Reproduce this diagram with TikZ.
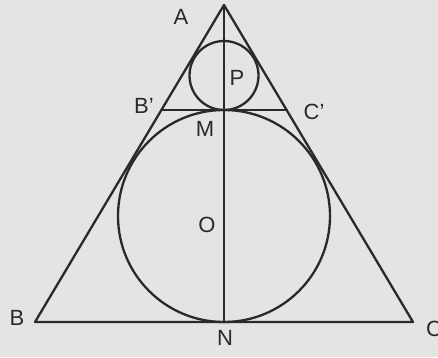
\documentclass[tikz,border=0pt]{standalone}
\usepackage{fontspec}
\setmainfont{Liberation Sans}
\definecolor{bg}{RGB}{228,228,226}
\definecolor{ink}{RGB}{40,43,40}
\begin{document}
\begin{tikzpicture}[x=1pt,y=-1pt,
  geo/.style={draw=ink,line width=2.3pt,line join=round},
  lbl/.style={text=ink,font=\fontsize{22}{22}\selectfont,inner sep=0pt}]
\fill[bg] (0,0) rectangle (438,357);
\useasboundingbox (0,0) rectangle (438,357);
\coordinate (A) at (224,5);
\coordinate (B) at (35,322);
\coordinate (C) at (413,322);
\coordinate (N) at (224,322);
\coordinate (M) at (224,110);
\coordinate (O) at (224,216);
\coordinate (P) at (224,75.5);
\coordinate (B1) at (160.5,110);
\coordinate (C1) at (287.5,110);
\draw[geo] (A) -- (B) -- (C) -- cycle;
\draw[geo] (A) -- (N);
\draw[geo] (B1) -- (C1);
\draw[geo] (O) circle[radius=106];
\draw[geo] (P) circle[radius=34.5];
\node[lbl] (lA) at (181,17) {A};
\node[lbl] (lP) at (237,78) {P};
\node[lbl] (lB1) at (144,106) {B’};
\node[lbl] (lC1) at (314,112) {C’};
\node[lbl] (lM) at (205,129) {M};
\node[lbl] (lO) at (207,225) {O};
\node[lbl] (lB) at (17,318) {B};
\node[lbl] (lC) at (434,329) {C};
\node[lbl] (lN) at (225,338) {N};
\end{tikzpicture}
\end{document}
